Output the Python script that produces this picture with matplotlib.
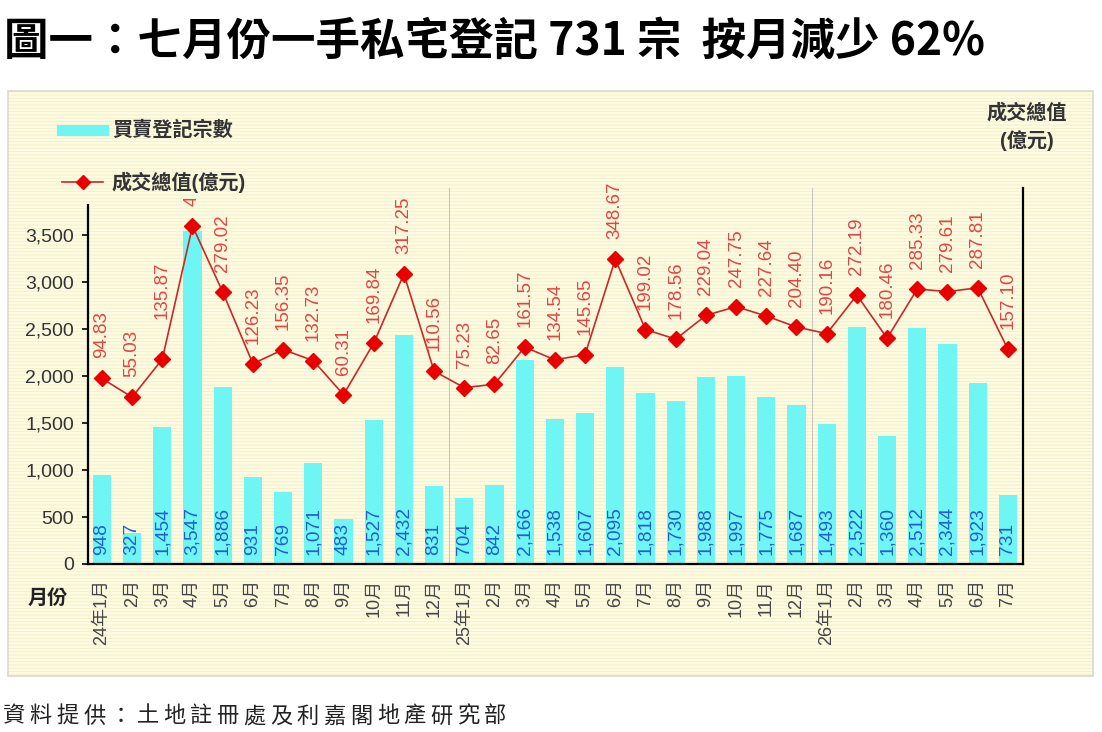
import matplotlib.pyplot as plt
from matplotlib.patches import Rectangle
from matplotlib.lines import Line2D
import numpy as np

plt.rcParams['font.family'] = ['Liberation Sans', 'Noto Sans CJK TC', 'DejaVu Sans']
plt.rcParams['hatch.linewidth'] = 0.6

# données
months = ['24年1月', '2月', '3月', '4月', '5月', '6月', '7月', '8月', '9月', '10月', '11月', '12月',
          '25年1月', '2月', '3月', '4月', '5月', '6月', '7月', '8月', '9月', '10月', '11月', '12月',
          '26年1月', '2月', '3月', '4月', '5月', '6月', '7月']
registrations = [948, 327, 1454, 3547, 1886, 931, 769, 1071, 483, 1527, 2432, 831,
                 704, 842, 2166, 1538, 1607, 2095, 1818, 1730, 1988, 1997, 1775, 1687,
                 1493, 2522, 1360, 2512, 2344, 1923, 731]
value_bn = [94.83, 55.03, 135.87, 419.0, 279.02, 126.23, 156.35, 132.73, 60.31, 169.84, 317.25, 110.56,
            75.23, 82.65, 161.57, 134.54, 145.65, 348.67, 199.02, 178.56, 229.04, 247.75, 227.64, 204.40,
            190.16, 272.19, 180.46, 285.33, 279.61, 287.81, 157.10]
yticks = [0, 500, 1000, 1500, 2000, 2500, 3000, 3500]

title = '圖一：七月份一手私宅登記 731 宗  按月減少 62%'
source = '資料提供：土地註冊處及利嘉閣地產研究部'

W, H = 1102, 732
fig = plt.figure(figsize=(W / 100, H / 100), dpi=100)

def fx(px):
    return px / W

def fy(py):
    return 1 - py / H

# fond du panneau avec rayures légères
fig.patches.append(Rectangle((fx(8), fy(676)), fx(1093) - fx(8), fy(91) - fy(676),
                             transform=fig.transFigure, facecolor='#fdfbe2', edgecolor='#f3efc8',
                             hatch='-----', linewidth=0, zorder=-2))
fig.patches.append(Rectangle((fx(8), fy(676)), fx(1093) - fx(8), fy(91) - fy(676),
                             transform=fig.transFigure, facecolor='none', edgecolor='#d9d9d0',
                             linewidth=1.2, zorder=-1))

ax = fig.add_axes([fx(88), fy(564), fx(1023) - fx(88), fy(205) - fy(564)])
ax.set_zorder(1)
ax.patch.set_alpha(0)
x = np.arange(len(months))

ax.bar(x, registrations, width=0.6, color='#70f5f5', zorder=2)
ax.set_xlim(-0.46, 30.5)
ax.set_ylim(0, 3820)
ax.set_yticks(yticks)
ax.set_yticklabels([f'{v:,}' for v in yticks], fontsize=14, color='#333333')
ax.tick_params(axis='y', length=4, width=1.2, color='black', pad=6)
ax.set_xticks(x)
ax.set_xticklabels(months, rotation=90, fontsize=13, color='#444444', va='top')
ax.tick_params(axis='x', length=0, pad=11)
for s in ['top', 'right']:
    ax.spines[s].set_visible(False)
ax.spines['left'].set_linewidth(1.6)
ax.spines['bottom'].set_linewidth(1.6)

for xi, v in zip(x, registrations):
    ax.annotate(f'{v:,}', (xi, 0), xytext=(0, 6.5), textcoords='offset points',
                rotation=90, ha='center', va='bottom', fontsize=13.8, color='#2060d0', zorder=4)

# séparateurs d'années et axe droit
for xd in [11.5, 23.5]:
    ax.add_line(Line2D([xd, xd], [0, 1.047], transform=ax.get_xaxis_transform(),
                       color='#c8c8c0', lw=0.8, clip_on=False, zorder=1))
ax.add_line(Line2D([1, 1], [0, 1.047], transform=ax.transAxes, color='black', lw=1.6,
                   clip_on=False, zorder=5))

ax2 = ax.twinx()
ax2.set_zorder(2)
ax2.patch.set_alpha(0)
ax2.set_ylim(-300, 464)
ax2.set_yticks([])
for s in ax2.spines.values():
    s.set_visible(False)
ax2.plot(x, value_bn, color='#c82828', lw=1.2, marker='D', markersize=8,
         markerfacecolor='#e80000', markeredgecolor='#e80000', zorder=3)

# l'étiquette d'avril 2024 est coupée en haut comme dans l'original
clip_rect = Rectangle((0, 0), 1, fy(199), transform=fig.transFigure, facecolor='none')
extra = {2: 20}
for xi, v in zip(x, value_bn):
    off = (20 + extra.get(xi, 0)) * 0.72
    t = ax2.annotate(f'{v:.2f}', (xi, v), xytext=(0, off), textcoords='offset points',
                     rotation=90, ha='center', va='bottom', fontsize=13.5, color='#e04545',
                     annotation_clip=False)
    if v > 400:
        t.set_clip_path(clip_rect)

# légende
fig.add_artist(Line2D([fx(62), fx(103)], [fy(130), fy(130)], color='#70f5f5', lw=8))
fig.text(fx(112), fy(130), '買賣登記宗數', fontsize=14.5, color='#333333', va='center',
         fontweight='bold')
fig.add_artist(Line2D([fx(62), fx(103)], [fy(182), fy(182)], color='#c82828', lw=1.2))
fig.add_artist(Line2D([fx(82.5)], [fy(182)], color='#e80000', marker='D', markersize=7, lw=0))
fig.text(fx(112), fy(182), '成交總值(億元)', fontsize=14.5, color='#333333', va='center',
         fontweight='bold')

fig.text(fx(1027), fy(113), '成交總值', fontsize=14.5, color='#333333', ha='center',
         va='center', fontweight='bold')
fig.text(fx(1027), fy(141), '(億元)', fontsize=14.5, color='#333333', ha='center',
         va='center', fontweight='bold')
fig.text(fx(48), fy(598), '月份', fontsize=14.5, color='#222222', ha='center', va='center',
         fontweight='bold')

fig.text(fx(4), fy(42), title, fontsize=32, fontweight='heavy', color='black', va='center',
         family=['Noto Sans CJK TC', 'DejaVu Sans'])

# texte source avec espacement des lettres
for i, ch in enumerate(source):
    fig.text(fx(3 + i * 26.7), fy(716), ch, fontsize=16, color='#222222', va='center',
             family=['Noto Sans CJK TC', 'DejaVu Sans'])

fig.savefig('out.png', dpi=100)
